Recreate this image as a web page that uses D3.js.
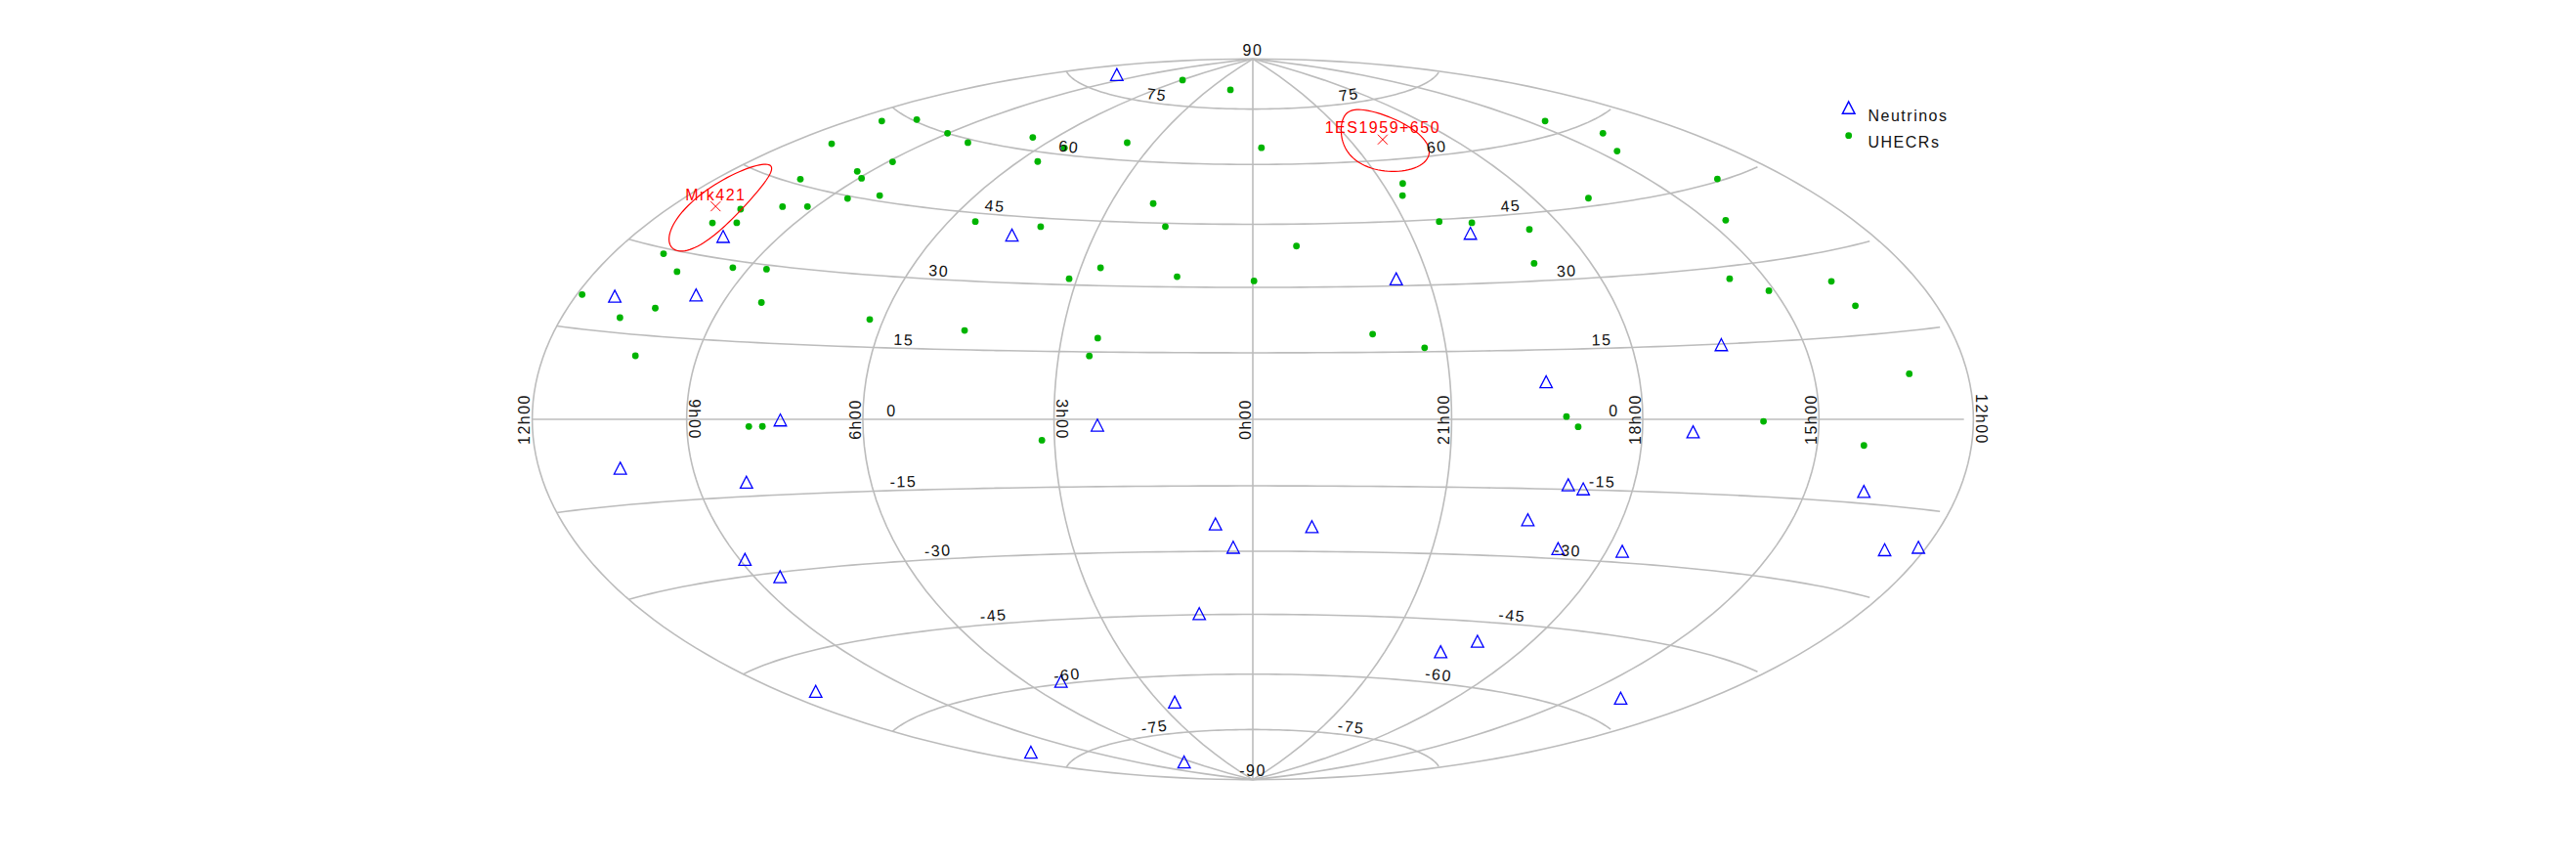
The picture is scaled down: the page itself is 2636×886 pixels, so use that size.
<!DOCTYPE html>
<html>
<head>
<meta charset="utf-8">
<script src="https://cdn.jsdelivr.net/npm/d3@7"></script>
<style>
  html, body { margin: 0; background: #fff; }
  svg { display: block; }
  text { font-family: "Liberation Sans", sans-serif; font-size: 16px; letter-spacing: 1.5px; fill: #111; }
</style>
</head>
<body>
<div id="chart"></div>
<script>
// Values, RA and Dec in degrees
const uhecrRa = [89.1, 23.2, 158.9, 169.2, 135.2, 120.3, 99.4, 56.6, 79.9, 356.2, 166.1, 133.4, 83.0, 139.3,
  134.1, 153.1, 120.1, 128.8, 157.1, 145.3, 137.7, 160.1, 152.7, 31.6, 82.1, 61.8, 25.5, 164.2,
  155.0, 139.7, 129.7, 39.8, 19.4, 47.0, 359.7, 178.3, 153.3, 162.0, 124.4, 93.5, 68.8, 36.4,
  37.8, 152.3, 118.6, 115.1, 47.9, 218.1, 209.0, 218.1, 202.9, 308.1, 311.0, 252.7, 219.4,
  304.8, 295.4, 280.1, 348.0, 285.4, 235.1, 226.6, 206.6, 204.8, 331.8, 320.0, 197.9, 288.3, 285.5,
  239.7, 212.1];
const uhecrDec = [81.6, 80.4, 60.3, 58.0, 60.0, 59.3, 62.9, 64.4, 61.6, 64.4, 52.4, 52.7, 57.8, 49.6,
  48.6, 45.9, 46.1, 44.5, 38.8, 40.8, 41.7, 35.6, 36.5, 49.7, 43.1, 43.0, 44.2, 29.1,
  26.6, 28.7, 29.2, 34.1, 32.4, 31.4, 31.5, 20.4, 19.9, 17.6, 22.8, 20.8, 19.2, 18.1,
  14.1, 11.3, -1.4, -1.4, -4.6, 62.6, 57.7, 54.3, 45.4, 54.0, 51.1, 46.7, 38.4,
  44.5, 43.8, 41.4, 39.7, 33.9, 27.6, 24.6, 24.9, 20.2, 19.1, 15.9, 7.8, 0.6, -1.6,
  -0.4, -4.7];

const neutrinoRa = [146.5, 151.2, 68.1, 167.4, 143.7, 110.5, 35.1, 155.5, 121.9, 9.0, 4.9, 133.9, 128.1, 15.8,
  170.0, 77.3, 38.3, 164.6, 104.3, 298.2, 323.5, 247.3, 292.6, 286.0, 282.1, 293.4, 345.7, 282.7,
  265.5, 257.5, 208.4, 192.0, 182.1, 286.8, 295.7, 207.4];
const neutrinoDec = [78.3, 33.5, 40.3, 20.7, 22.7, -0.5, -1.7, -8.9, -12.6, -24.1, -29.5, -27.2, -31.2, -45.2,
  -51.3, -59.8, -67.3, -71.5, -82.8, 41.0, 31.2, 14.5, 7.7, -14.4, -15.2, -22.2, -24.7, -28.2,
  -28.0, -2.9, -13.2, -22.6, -21.3, -49.9, -53.0, -56.0];

const sourceNames = ["Mrk421", "1ES1959+650"];
const sourceRa = [166.1, 300.0];
const sourceDec = [38.2, 65.1];
// Error ellipse: half widths in RA and Dec, and their correlation
const sourceErrRa = [11.15, 19.9];
const sourceErrDec = [8.17, 8.08];
const sourceErrCorr = [0.479, -0.317];

// Grid and its labels
const raLabels = ["12h00", "9h00", "6h00", "3h00", "0h00", "21h00", "18h00", "15h00", "12h00"];
const raLabelDeg = [180, 135, 90, 45, 0, 315, 270, 225, 180];
const raLabelSide = [-1, 1, -1, 1, -1, -1, -1, -1, 1];
const decLines = [-75, -60, -45, -30, -15, 0, 15, 30, 45, 60, 75];
const decLabels = [90, 75, 60, 45, 30, 15, 0, -15, -30, -45, -60, -75, -90];
const raLines = [135, 90, 45, 0, 315, 270, 225];

const legendNames = ["Neutrinos", "UHECRs"];

const width = 2636, height = 886;

// RA runs right to left on the sky map
const lonOf = ra => ra > 180 ? 360 - ra : -ra;

// Hammer-Aitoff, built on d3's azimuthal equal-area raw projection
const hammerRaw = (lambda, phi) => {
  const p = d3.geoAzimuthalEqualAreaRaw(lambda / 2, phi);
  return [p[0] * 2, p[1]];
};

const projection = d3.geoProjection(hammerRaw)
  .scale(260.7)
  .translate([1282, 429])
  .precision(0.1);
const path = d3.geoPath(projection);

const svg = d3.select("#chart").append("svg")
  .attr("width", width)
  .attr("height", height);

// Grid
const grid = svg.append("g")
  .attr("fill", "none")
  .attr("stroke", "#bcbcbc")
  .attr("stroke-width", 1.6);

grid.append("path").datum({ type: "Sphere" }).attr("d", path);

grid.selectAll(".dec")
  .data(decLines)
  .enter()
  .append("path")
  .attr("class", "dec")
  .attr("d", d => path({
    type: "LineString",
    coordinates: d3.range(-179.999, 180, 3).map(l => [l, d])
  }));

grid.selectAll(".ra")
  .data(raLines)
  .enter()
  .append("path")
  .attr("class", "ra")
  .attr("d", d => path({
    type: "LineString",
    coordinates: [[lonOf(d), -89.999], [lonOf(d), 0], [lonOf(d), 89.999]]
  }));

// Neutrinos, the triangle is a little narrower than equilateral
const triangle = "M0,-8L6.3,4.2L-6.3,4.2Z";

svg.append("g").selectAll("path")
  .data(neutrinoRa.map((ra, i) => [lonOf(ra), neutrinoDec[i]]))
  .enter()
  .append("path")
  .attr("d", triangle)
  .attr("transform", d => `translate(${projection(d)})`)
  .attr("fill", "none")
  .attr("stroke", "#0000ff")
  .attr("stroke-width", 1.3);

// UHECRs
svg.append("g").selectAll("circle")
  .data(uhecrRa.map((ra, i) => [lonOf(ra), uhecrDec[i]]))
  .enter()
  .append("circle")
  .attr("cx", d => projection(d)[0])
  .attr("cy", d => projection(d)[1])
  .attr("r", 3.4)
  .attr("fill", "#00b400");

// Sources: error ellipse, cross and name
const sources = svg.append("g");
sourceNames.forEach((name, i) => {
  const p = projection([lonOf(sourceRa[i]), sourceDec[i]]);
  const rho = sourceErrCorr[i];
  const ring = d3.range(0, 361, 4).map(deg => {
    const t = deg * Math.PI / 180;
    return [
      lonOf(sourceRa[i] + sourceErrRa[i] * Math.cos(t)),
      sourceDec[i] + sourceErrDec[i] * (rho * Math.cos(t) + Math.sqrt(1 - rho * rho) * Math.sin(t))
    ];
  });

  sources.append("path")
    .attr("d", path({ type: "LineString", coordinates: ring }))
    .attr("fill", "none")
    .attr("stroke", "#ff0000")
    .attr("stroke-width", 1.2);

  sources.append("path")
    .attr("d", "M-5,-5L5,5M-5,5L5,-5")
    .attr("transform", `translate(${p})`)
    .attr("fill", "none")
    .attr("stroke", "#ff0000")
    .attr("stroke-width", 1);

  sources.append("text")
    .attr("x", p[0])
    .attr("y", p[1] - 12)
    .attr("dy", "0.36em")
    .attr("text-anchor", "middle")
    .style("fill", "#ff0000")
    .text(name);
});

// Dec labels sit above their parallel and follow its slope
const decLabelLon = lat => 83 - 13 * Math.pow(Math.abs(lat) / 75, 2);
const decSpots = [];
decLabels.forEach(lat => {
  const sides = Math.abs(lat) === 90 ? [0] : [-1, 1];
  sides.forEach(s => decSpots.push({ lat, lon: s * decLabelLon(lat) }));
});

svg.append("g").selectAll("text")
  .data(decSpots)
  .enter()
  .append("text")
  .attr("text-anchor", "middle")
  .attr("dy", "0.36em")
  .attr("transform", d => {
    const p = projection([d.lon, d.lat]);
    if (Math.abs(d.lat) === 90) return `translate(${p[0]},${p[1] - 9})`;
    const a = projection([d.lon - 1, d.lat]), b = projection([d.lon + 1, d.lat]);
    const angle = Math.atan2(b[1] - a[1], b[0] - a[0]) * 180 / Math.PI;
    return `translate(${p}) rotate(${angle}) translate(0,-9)`;
  })
  .text(d => d.lat);

// RA labels along the equator
svg.append("g").selectAll("text")
  .data(raLabels)
  .enter()
  .append("text")
  .attr("text-anchor", "middle")
  .attr("dy", "0.36em")
  .attr("transform", (d, i) => {
    const side = raLabelSide[i];
    const lon = raLabelDeg[i] === 180 ? side * 179.999 : lonOf(raLabelDeg[i]);
    const p = projection([lon, 0]);
    return `translate(${p[0] + side * 8},${p[1]}) rotate(${side * 90})`;
  })
  .text(d => d);

// Legend
const legend = svg.append("g");
legend.append("path")
  .attr("d", triangle)
  .attr("transform", "translate(1891.7,112)")
  .attr("fill", "none")
  .attr("stroke", "#0000ff")
  .attr("stroke-width", 1.5);
legend.append("circle")
  .attr("cx", 1891.7)
  .attr("cy", 138.7)
  .attr("r", 3.4)
  .attr("fill", "#00b400");
legend.selectAll("text")
  .data(legendNames)
  .enter()
  .append("text")
  .attr("x", 1911.5)
  .attr("y", (d, i) => 124 + i * 27)
  .text(d => d);
</script>
</body>
</html>
